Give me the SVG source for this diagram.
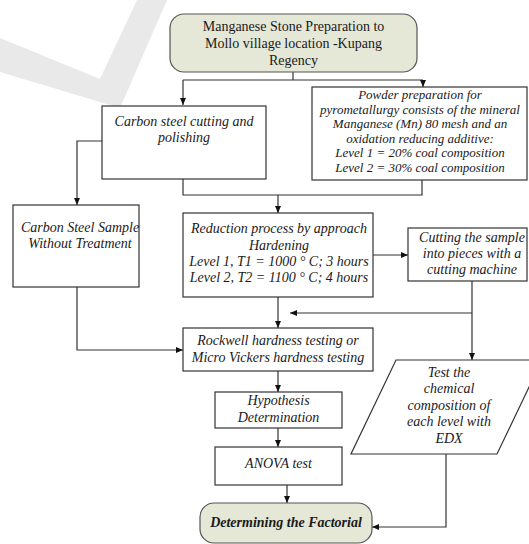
<svg xmlns="http://www.w3.org/2000/svg" width="529" height="544" viewBox="0 0 529 544">
<style>
.box{fill:#ffffff;stroke:#333333;stroke-width:1.2}
.term{fill:#e5e7d7;stroke:#555555;stroke-width:1.2}
.t{font-family:"Liberation Serif","Times New Roman",serif;font-size:14px;fill:#1a1a1a;text-anchor:middle}
.s{font-size:13px}
.i{font-style:italic}
.b{font-weight:bold}
.c{fill:none;stroke:#333333;stroke-width:1.2}
</style>
<defs>
<marker id="ah" markerWidth="8" markerHeight="8" refX="7" refY="4" orient="auto" markerUnits="userSpaceOnUse">
<path d="M0,1 L7,4 L0,7 Z" fill="#111111"/>
</marker>
</defs>
<rect width="529" height="544" fill="#ffffff"/>
<polygon id="watermark" points="0,38 100,79 137,0 167,0 120,108 0,72" fill="#e9e9e9"/>

<g id="connectors">
<path class="c" d="M293,72 V80 M183,80 H423"/>
<path class="c" d="M183,80 V105" marker-end="url(#ah)"/>
<path class="c" d="M423,80 V87" marker-end="url(#ah)"/>
<path class="c" d="M183,179 V195 H422 V180"/>
<path class="c" d="M278,195 V213" marker-end="url(#ah)"/>
<path class="c" d="M102,141 H77 V205" marker-end="url(#ah)"/>
<path class="c" d="M77,287 V350 H183" marker-end="url(#ah)"/>
<path class="c" d="M373,255 H408" marker-end="url(#ah)"/>
<path class="c" d="M278,297 V328" marker-end="url(#ah)"/>
<path class="c" d="M472,281 V360" marker-end="url(#ah)"/>
<path class="c" d="M472,313 H290" marker-end="url(#ah)"/>
<path class="c" d="M278,371 V392" marker-end="url(#ah)"/>
<path class="c" d="M278,428 V447" marker-end="url(#ah)"/>
<path class="c" d="M287,485 V503" marker-end="url(#ah)"/>
<path class="c" d="M446,454 V527 H372" marker-end="url(#ah)"/>
</g>

<g id="n_start">
<rect class="term" x="170" y="14" width="247" height="58" rx="14"/>
<text class="t" x="293.5" y="31">Manganese Stone Preparation to</text>
<text class="t" x="293.5" y="48">Mollo village location -Kupang</text>
<text class="t" x="293.5" y="65">Regency</text>
</g>

<g id="n_cutpol">
<rect class="box" x="102" y="106" width="164" height="73"/>
<text class="t i" x="184" y="126">Carbon steel cutting and</text>
<text class="t i" x="184" y="142">polishing</text>
</g>

<g id="n_powder">
<rect class="box" x="312" y="87" width="215" height="93"/>
<text class="t i s" x="420" y="99">Powder preparation for</text>
<text class="t i s" x="420" y="113.5">pyrometallurgy consists of the mineral</text>
<text class="t i s" x="420" y="128">Manganese (Mn) 80 mesh and an</text>
<text class="t i s" x="420" y="142.5">oxidation reducing additive:</text>
<text class="t i s" x="420" y="157">Level 1 = 20% coal composition</text>
<text class="t i s" x="420" y="171.5">Level 2 = 30% coal composition</text>
</g>

<g id="n_sample">
<rect class="box" x="13" y="205" width="126" height="82"/>
<text class="t i" x="80" y="232">Carbon Steel Sample</text>
<text class="t i" x="80" y="248">Without Treatment</text>
</g>

<g id="n_reduction">
<rect class="box" x="183" y="213" width="190" height="84"/>
<text class="t i" x="279" y="233">Reduction process by approach</text>
<text class="t i" x="279" y="250">Hardening</text>
<text class="t i" x="279" y="266">Level 1, T1 = 1000 ° C; 3 hours</text>
<text class="t i" x="279" y="282">Level 2, T2 = 1100 ° C; 4 hours</text>
</g>

<g id="n_cutting">
<rect class="box" x="408" y="228" width="119" height="53"/>
<text class="t i" x="472" y="242">Cutting the sample</text>
<text class="t i" x="472" y="258">into pieces with a</text>
<text class="t i" x="472" y="274">cutting machine</text>
</g>

<g id="n_rockwell">
<rect class="box" x="183" y="328" width="190" height="43"/>
<text class="t i" x="278" y="345">Rockwell hardness testing or</text>
<text class="t i" x="278" y="362">Micro Vickers hardness testing</text>
</g>

<g id="n_hypo">
<rect class="box" x="215" y="392" width="127" height="36"/>
<text class="t i" x="278.5" y="405">Hypothesis</text>
<text class="t i" x="278.5" y="422">Determination</text>
</g>

<g id="n_anova">
<rect class="box" x="215" y="447" width="127" height="38"/>
<text class="t i" x="278.5" y="468">ANOVA test</text>
</g>

<g id="n_edx">
<polygon class="box" points="396,360 542,360 497,454 351,454"/>
<text class="t i" x="449" y="377">Test the</text>
<text class="t i" x="449" y="393">chemical</text>
<text class="t i" x="449" y="410">composition of</text>
<text class="t i" x="449" y="426">each level with</text>
<text class="t i" x="449" y="443">EDX</text>
</g>

<g id="n_end">
<rect class="term" x="200" y="503" width="172" height="40" rx="14"/>
<text class="t i b" x="286" y="527">Determining the Factorial</text>
</g>
</svg>
